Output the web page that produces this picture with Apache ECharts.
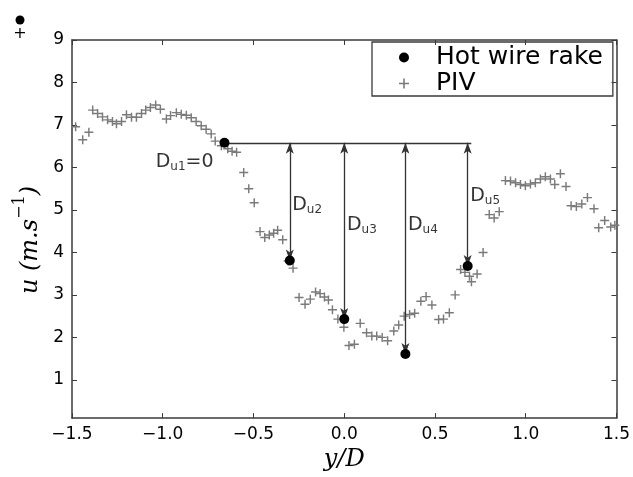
<!DOCTYPE html>
<html><head><meta charset="utf-8">
<script src="https://cdn.jsdelivr.net/npm/echarts@6/dist/echarts.min.js"></script>
<style>html,body{margin:0;padding:0;background:#fff}#c{width:633px;height:477px}</style>
</head><body><div id="c"></div>
<script>
// PIV profile (y/D, u)
const pivX = [-1.480,-1.441,-1.407,-1.386,-1.359,-1.332,-1.304,-1.277,-1.255,-1.227,
  -1.200,-1.172,-1.145,-1.117,-1.094,-1.068,-1.039,-1.013,-0.980,-0.957,
  -0.925,-0.898,-0.870,-0.843,-0.816,-0.788,-0.761,-0.733,-0.711,-0.677,
  -0.642,-0.618,-0.593,-0.554,-0.526,-0.496,-0.464,-0.438,-0.413,-0.389,
  -0.367,-0.339,-0.309,-0.282,-0.249,-0.216,-0.187,-0.158,-0.133,-0.109,
  -0.087,-0.065,-0.035,-0.002,0.026,0.056,0.088,0.123,0.152,0.179,
  0.209,0.239,0.273,0.300,0.330,0.360,0.388,0.422,0.451,0.483,
  0.520,0.547,0.579,0.611,0.641,0.665,0.690,0.701,0.732,0.765,
  0.799,0.826,0.854,0.888,0.916,0.944,0.971,0.998,1.026,1.053,
  1.081,1.108,1.136,1.160,1.191,1.222,1.250,1.279,1.309,1.340,
  1.376,1.402,1.435,1.468,1.491];
const pivU = [6.96,6.65,6.83,7.35,7.27,7.19,7.12,7.08,7.03,7.08,
  7.24,7.18,7.18,7.27,7.35,7.41,7.47,7.37,7.14,7.22,
  7.29,7.25,7.23,7.17,7.08,6.98,6.90,6.79,6.62,6.51,
  6.44,6.38,6.36,5.88,5.50,5.17,4.49,4.35,4.41,4.45,
  4.52,4.30,3.80,3.63,2.94,2.78,2.90,3.07,3.03,2.95,
  2.88,2.65,2.43,2.24,1.81,1.84,2.33,2.11,2.03,2.03,
  2.00,1.92,2.15,2.29,2.50,2.54,2.57,2.85,2.96,2.76,
  2.42,2.43,2.58,3.00,3.60,3.53,3.44,3.31,3.49,4.00,
  4.89,4.81,4.96,5.69,5.68,5.64,5.60,5.57,5.61,5.64,
  5.73,5.78,5.73,5.60,5.85,5.55,5.10,5.08,5.14,5.29,
  5.03,4.58,4.75,4.60,4.64];
// Hot wire rake
const hwX = [-0.66,-0.30,0.0,0.337,0.68];
const hwU = [6.58,3.81,2.43,1.61,3.68];
const refLineEndX = 0.70;
const duNames = ['u1','u2','u3','u4','u5'];
// ticks
const xTicks = [-1.5,-1.0,-0.5,0.0,0.5,1.0,1.5];
const yTicks = [1,2,3,4,5,6,7,8,9];

const annoAnchors = [[-1.039,6.13],[-0.287,5.11],[0.015,4.64],[0.351,4.64],[0.694,5.32]];

const chart = echarts.init(document.getElementById('c'));
const plus = 'path://M4.2,0H5.8V4.2H10V5.8H5.8V10H4.2V5.8H0V4.2H4.2Z';
const axisCol = '#3a3a3a';
const sans = 'DejaVu Sans';
const fmtX = v => (v < 0 ? '\u2212' : '') + Math.abs(v).toFixed(1);
const tickFont = {fontFamily: sans, fontSize: 17, color: '#000'};

const xBase = {type: 'value', min: xTicks[0], max: xTicks[xTicks.length - 1], interval: 0.5,
  axisLine: {show: true, onZero: false, lineStyle: {color: axisCol, width: 1.5}},
  axisTick: {show: true, inside: true, length: 5, lineStyle: {color: axisCol, width: 1}},
  splitLine: {show: false}};
const yBase = {type: 'value', min: 0.1, max: 9,
  axisLine: {show: true, onZero: false, lineStyle: {color: axisCol, width: 1.5}},
  axisTick: {show: true, inside: true, length: 5, customValues: yTicks, lineStyle: {color: axisCol, width: 1}},
  splitLine: {show: false}};

const arrows = hwX.slice(1).map((x, i) => ({coords: [[x, hwU[0]], [x, hwU[i + 1]]]}));

chart.setOption({
  animation: false,
  backgroundColor: '#fff',
  grid: {left: 72, right: 14, top: 40, bottom: 55},
  xAxis: [
    Object.assign({}, xBase, {position: 'bottom',
      axisLabel: Object.assign({formatter: fmtX, margin: 8, customValues: xTicks}, tickFont),
      name: 'y/D', nameLocation: 'middle', nameGap: 22,
      nameTextStyle: {fontFamily: 'DejaVu Serif', fontStyle: 'italic', fontSize: 24, color: '#000'}}),
    Object.assign({}, xBase, {position: 'top', axisLabel: {show: false}})
  ],
  yAxis: [
    Object.assign({}, yBase, {position: 'left',
      axisLabel: Object.assign({margin: 8, customValues: yTicks}, tickFont),
      name: '{a|u (m.s}{b|\u22121}{a|)}', nameLocation: 'middle', nameGap: 28, nameRotate: 90,
      nameTextStyle: {padding: [0, 22, 0, 0], rich: {
        a: {fontFamily: 'DejaVu Serif', fontStyle: 'italic', fontSize: 24, color: '#000', lineHeight: 30, verticalAlign: 'bottom'},
        b: {fontFamily: 'DejaVu Serif', fontSize: 16, color: '#000', lineHeight: 14, verticalAlign: 'top'}
      }}}),
    Object.assign({}, yBase, {position: 'right', axisLabel: {show: false}})
  ],
  legend: {
    orient: 'vertical', left: 372, top: 42,
    padding: [3, 10, 0, 27], itemGap: 1, itemWidth: 54, itemHeight: 10,
    borderColor: axisCol, borderWidth: 1.3, borderRadius: 0,
    textStyle: {fontFamily: sans, fontSize: 25, color: '#000'},
    data: [{name: 'Hot wire rake', icon: 'circle'}, {name: 'PIV', icon: plus}]
  },
  graphic: [
    {type: 'circle', shape: {cx: 20, cy: 20, r: 4.5}, style: {fill: '#000'}},
    {type: 'text', x: 20, y: 34, style: {text: '+', fill: '#000', font: '16px DejaVu Sans', align: 'center', verticalAlign: 'middle'}}
  ],
  series: [
    {name: 'PIV', type: 'scatter', symbol: plus, symbolSize: 9, z: 2,
     itemStyle: {color: '#7a7a7a', opacity: 1}, data: pivX.map((x, i) => [x, pivU[i]])},
    {type: 'lines', coordinateSystem: 'cartesian2d', z: 3, symbol: 'none', silent: true,
     lineStyle: {color: '#333', width: 1.3, opacity: 1},
     data: [{coords: [[hwX[0], hwU[0]], [refLineEndX, hwU[0]]]}]},
    {type: 'lines', coordinateSystem: 'cartesian2d', z: 3, silent: true,
     symbol: ['arrow', 'arrow'], symbolSize: [[6, 11], [6, 11]], symbolOffset: [[0, 5], [0, 5]],
     lineStyle: {color: '#333', width: 1.3, opacity: 1}, itemStyle: {color: '#111'},
     data: arrows},
    {name: 'Hot wire rake', type: 'scatter', symbol: 'circle', symbolSize: 10, z: 5,
     itemStyle: {color: '#000', opacity: 1}, data: hwX.map((x, i) => [x, hwU[i]])},
    {type: 'scatter', symbolSize: 0, z: 6, silent: true,
     data: annoAnchors.map((p, i) => ({value: p, k: duNames[i]})),
     label: {show: true, position: 'right', distance: 0,
       formatter: p => '{d|D}{s|' + duNames[p.dataIndex] + '}' + (p.dataIndex === 0 ? '{d|=0}' : ''),
       rich: {
         d: {fontFamily: sans, fontSize: 19, color: '#000', lineHeight: 22},
         s: {fontFamily: sans, fontSize: 12, color: '#000', lineHeight: 9, verticalAlign: 'bottom'}
       }}}
  ]
});
</script></body></html>
